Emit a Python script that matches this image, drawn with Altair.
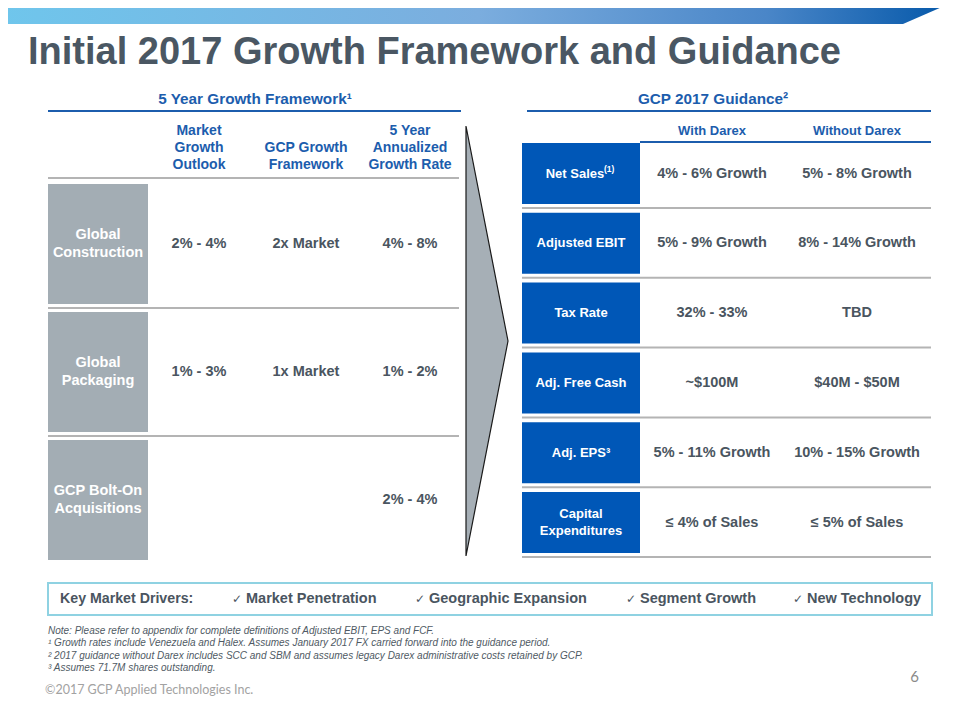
import altair as alt
import pandas as pd

# ---------------- data (text content of the slide) ----------------
title = "Initial 2017 Growth Framework and Guidance"
left_heading = "5 Year Growth Framework¹"
right_heading = "GCP 2017 Guidance²"
left_columns = ["Market\nGrowth\nOutlook", "GCP Growth\nFramework", "5 Year\nAnnualized\nGrowth Rate"]
segments = ["Global\nConstruction", "Global\nPackaging", "GCP Bolt-On\nAcquisitions"]
market_growth = ["2% - 4%", "1% - 3%", ""]
gcp_framework = ["2x Market", "1x Market", ""]
annualized_rate = ["4% - 8%", "1% - 2%", "2% - 4%"]
right_columns = ["With Darex", "Without Darex"]
metrics = ["Net Sales", "Adjusted EBIT", "Tax Rate", "Adj. Free Cash", "Adj. EPS³", "Capital\nExpenditures"]
metric_notes = ["(1)", "", "", "", "", ""]
with_darex = ["4% - 6% Growth", "5% - 9% Growth", "32% - 33%", "~$100M", "5% - 11% Growth", "≤ 4% of Sales"]
without_darex = ["5% - 8% Growth", "8% - 14% Growth", "TBD", "$40M - $50M", "10% - 15% Growth", "≤ 5% of Sales"]
drivers_label = "Key Market Drivers:"
drivers = ["Market Penetration", "Geographic Expansion", "Segment Growth", "New Technology"]
footnotes = [
    "Note: Please refer to appendix for complete definitions of Adjusted EBIT, EPS and FCF.",
    "¹ Growth rates include Venezuela and Halex. Assumes January 2017 FX carried forward into the guidance period.",
    "² 2017 guidance without Darex includes SCC and SBM and assumes legacy Darex administrative costs retained by GCP.",
    "³ Assumes 71.7M shares outstanding.",
]
page_number = "6"
copyright_text = "©2017 GCP Applied Technologies Inc."

# ---------------- layout (slide pixel grid) ----------------
W, H = 940, 700
XS = alt.Scale(domain=[8, 8 + W], nice=False, zero=False)
YS = alt.Scale(domain=[8, 8 + H], nice=False, zero=False, reverse=True)

L_X0, L_X1 = 48, 459
L_LABEL_X0, L_LABEL_X1 = 48, 148
L_COL_X = [199, 306, 410]
L_ROW_TOP, L_ROW_PITCH, L_ROW_H = 184, 128, 120
R_X0, R_X1 = 522, 931
R_LABEL_X0, R_LABEL_X1 = 522, 640
R_COL_X = [712, 857]
R_ROW_TOP, R_ROW_PITCH, R_ROW_H = 143, 69.8, 61
NOTE_SHIFT = 6          # label shift left when a raised note follows it
NOTE_GAP = 29           # distance from cell centre to the raised note
DRIVER_X = [232, 415, 626, 793]

BLUE = "#1c5dad"
BOX_BLUE = "#0057b7"
BOX_GRAY = "#a3adb4"
TXT_GRAY = "#4a5560"
RULE_GRAY = "#b4b4b4"
SANS = "Liberation Sans"


def X(f="x"):
    return alt.X(f"{f}:Q", scale=XS, axis=None)


def Y(f="y"):
    return alt.Y(f"{f}:Q", scale=YS, axis=None)


def text_layer(rows, **mk):
    df = pd.DataFrame(rows, columns=["x", "y", "text"])
    return alt.Chart(df).mark_text(**mk).encode(x=X(), y=Y(), text="text:N")


def rule_layer(rows, **mk):
    df = pd.DataFrame(rows, columns=["x", "x2", "y"])
    return alt.Chart(df).mark_rule(**mk).encode(x=X(), x2="x2:Q", y=Y())


def rect_layer(rows, **mk):
    df = pd.DataFrame(rows, columns=["x", "x2", "y", "y2"])
    return alt.Chart(df).mark_rect(**mk).encode(x=X(), x2="x2:Q", y=Y(), y2="y2:Q")


def split_lines(s, x, yc, lh, anchor="middle"):
    parts = s.split("\n")
    n = len(parts)
    out = []
    for i, p in enumerate(parts):
        if anchor == "middle":
            y = yc + (i - (n - 1) / 2) * lh
        else:  # bottom-anchored block: last line at yc
            y = yc - (n - 1 - i) * lh
        out.append((x, y, p))
    return out


layers = []

# banner with gradient and slanted right end
banner = pd.DataFrame({"x": [0, 903, 958], "y": [0, 0, 0], "y2": [24, 24, 0]})
layers.append(
    alt.Chart(banner).mark_area(
        clip=True,
        color=alt.LinearGradient(
            gradient="linear",
            stops=[
                alt.GradientStop(color="#6fc6ec", offset=0),
                alt.GradientStop(color="#7badde", offset=0.5),
                alt.GradientStop(color="#4a86c8", offset=0.8),
                alt.GradientStop(color="#0256a8", offset=1),
            ],
            x1=0, x2=1, y1=0, y2=0,
        ),
    ).encode(x=X(), y=Y(), y2="y2:Q")
)

# title
layers.append(text_layer([(28, 64, title)], align="left", baseline="alphabetic", font=SANS,
                         fontWeight="bold", fontSize=38, color="#4a5763"))

# section headings and underlines
layers.append(text_layer([(255, 99, left_heading), (713, 99, right_heading)], align="center",
                         baseline="middle", font=SANS, fontWeight="bold", fontSize=15.3, color=BLUE))
layers.append(rule_layer([(L_X0, 461, 111), (527, R_X1, 111)], color=BLUE, strokeWidth=2))

# left column headers
rows = []
for s, cx in zip(left_columns, L_COL_X):
    rows += split_lines(s, cx, 165, 17, anchor="bottom")
layers.append(text_layer(rows, align="center", baseline="middle", font=SANS, fontWeight="bold",
                         fontSize=14, color=BLUE))

# left table rules
l_rules = [(L_X0, L_X1, 178)] + [(L_X0, L_X1, L_ROW_TOP + i * L_ROW_PITCH + L_ROW_H + 4)
                                  for i in range(len(segments) - 1)]
layers.append(rule_layer(l_rules, color=RULE_GRAY, strokeWidth=2))

# left row boxes
layers.append(rect_layer([(L_LABEL_X0, L_LABEL_X1, L_ROW_TOP + i * L_ROW_PITCH,
                           L_ROW_TOP + i * L_ROW_PITCH + L_ROW_H) for i in range(len(segments))],
                         color=BOX_GRAY))
rows = []
for i, s in enumerate(segments):
    rows += split_lines(s, (L_LABEL_X0 + L_LABEL_X1) / 2, L_ROW_TOP + i * L_ROW_PITCH + L_ROW_H / 2, 18)
layers.append(text_layer(rows, align="center", baseline="middle", font=SANS, fontWeight="bold",
                         fontSize=14.5, color="white"))

# left values
rows = []
for i in range(len(segments)):
    yc = L_ROW_TOP + i * L_ROW_PITCH + L_ROW_H / 2
    for cx, col in zip(L_COL_X, [market_growth, gcp_framework, annualized_rate]):
        if col[i]:
            rows.append((cx, yc, col[i]))
layers.append(text_layer(rows, align="center", baseline="middle", font=SANS, fontWeight="bold",
                         fontSize=14.5, color=TXT_GRAY))

# arrow
arrow = pd.DataFrame({"x": [466, 508], "y": [126, 341], "y2": [556, 341]})
layers.append(alt.Chart(arrow).mark_area(fill="#a6afb6", stroke="#1a1a1a", strokeWidth=1.2)
              .encode(x=X(), y=Y(), y2="y2:Q"))

# right column headers
layers.append(text_layer([(cx, 131, s) for cx, s in zip(R_COL_X, right_columns)], align="center",
                         baseline="middle", font=SANS, fontWeight="bold", fontSize=13, color=BLUE))
layers.append(rule_layer([(R_LABEL_X1, R_X1, 142)], color=BLUE, strokeWidth=2))

# right rules
layers.append(rule_layer([(R_X0, R_X1, R_ROW_TOP + i * R_ROW_PITCH + R_ROW_H + 4)
                          for i in range(len(metrics))], color=RULE_GRAY, strokeWidth=2))

# right boxes
layers.append(rect_layer([(R_LABEL_X0, R_LABEL_X1, R_ROW_TOP + i * R_ROW_PITCH,
                           R_ROW_TOP + i * R_ROW_PITCH + R_ROW_H) for i in range(len(metrics))],
                         color=BOX_BLUE))
rows, notes = [], []
lab_cx = (R_LABEL_X0 + R_LABEL_X1) / 2
for i, (s, note) in enumerate(zip(metrics, metric_notes)):
    yc = R_ROW_TOP + i * R_ROW_PITCH + R_ROW_H / 2
    cx = lab_cx - NOTE_SHIFT if note else lab_cx
    rows += split_lines(s, cx, yc, 17)
    if note:
        notes.append((lab_cx + NOTE_GAP - NOTE_SHIFT, yc - 5, note))
layers.append(text_layer(rows, align="center", baseline="middle", font=SANS, fontWeight="bold",
                         fontSize=13, color="white"))
layers.append(text_layer(notes, align="left", baseline="middle", font=SANS, fontWeight="bold",
                         fontSize=8.5, color="white"))

rows = []
for i in range(len(metrics)):
    yc = R_ROW_TOP + i * R_ROW_PITCH + R_ROW_H / 2
    rows.append((R_COL_X[0], yc, with_darex[i]))
    rows.append((R_COL_X[1], yc, without_darex[i]))
layers.append(text_layer(rows, align="center", baseline="middle", font=SANS, fontWeight="bold",
                         fontSize=14.5, color=TXT_GRAY))

# key market drivers box
layers.append(rect_layer([(48, 932, 583, 615)], filled=False, stroke="#8fd2e2", strokeWidth=2))
layers.append(text_layer([(60, 599, drivers_label)], align="left", baseline="middle", font=SANS,
                         fontWeight="bold", fontSize=14.2, color=TXT_GRAY))
layers.append(text_layer([(dx, 599, "✓") for dx in DRIVER_X], align="left", baseline="middle",
                         font="DejaVu Sans", fontSize=12, color=TXT_GRAY))
layers.append(text_layer([(dx + 14, 599, s) for dx, s in zip(DRIVER_X, drivers)], align="left",
                         baseline="middle", font=SANS, fontWeight="bold", fontSize=14.5, color=TXT_GRAY))

# footnotes
layers.append(text_layer([(48, 631 + i * 12.4, s) for i, s in enumerate(footnotes)], align="left",
                         baseline="middle", font=SANS, fontStyle="italic", fontSize=10,
                         color="#4f5a64"))

# page number and copyright
layers.append(text_layer([(919, 677, page_number)], align="right", baseline="middle", font="Lato",
                         fontSize=15, color="#8a8a8a"))
layers.append(text_layer([(45, 690, copyright_text)], align="left", baseline="middle", font="Lato",
                         fontSize=12.5, color="#a2a2a2"))

chart = alt.layer(*layers).properties(
    width=W, height=H, padding=0, autosize=alt.AutoSizeParams(type="none"), background="white"
).configure_view(stroke=None)

chart.save("out.html", embed_options={"renderer": "svg", "actions": False})
